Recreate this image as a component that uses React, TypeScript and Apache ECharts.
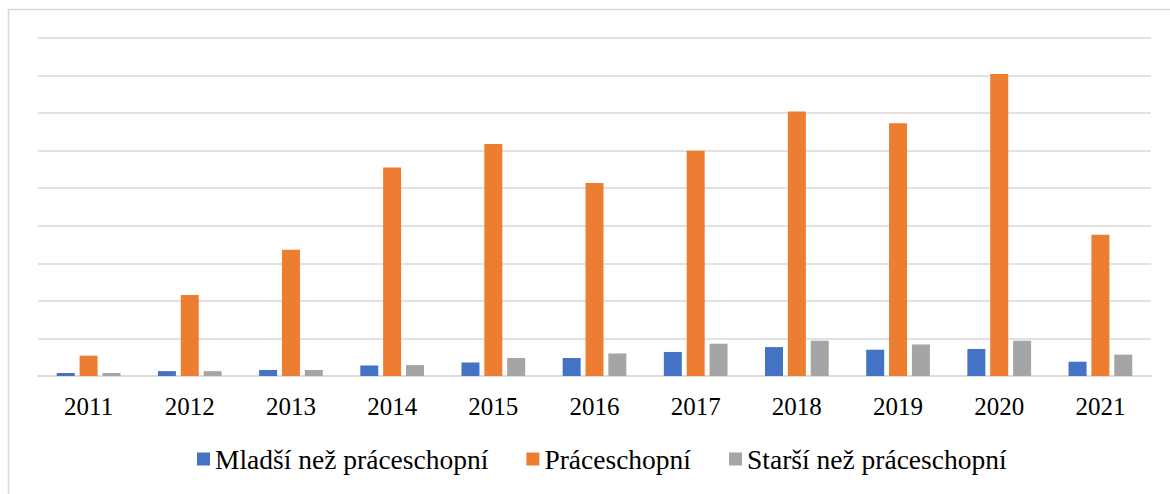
import React, { useEffect, useRef } from "react";
import * as echarts from "echarts";

const years = ["2011", "2012", "2013", "2014", "2015", "2016", "2017", "2018", "2019", "2020", "2021"];
const seriesNames = ["Mladší než práceschopní", "Práceschopní", "Starší než práceschopní"];
const younger = [0.08, 0.13, 0.16, 0.28, 0.36, 0.48, 0.64, 0.77, 0.70, 0.72, 0.38];
const working = [0.54, 2.16, 3.36, 5.55, 6.18, 5.14, 6.0, 7.04, 6.73, 8.04, 3.76];
const older = [0.08, 0.13, 0.16, 0.29, 0.48, 0.6, 0.86, 0.94, 0.84, 0.94, 0.57];
const colors = ["#4472C4", "#ED7D31", "#A5A5A5"];

const FONT = "Liberation Serif";

export default function App() {
  const ref = useRef<HTMLDivElement>(null);
  useEffect(() => {
    if (!ref.current) return;
    const chart = echarts.init(ref.current, null, { renderer: "svg" });
    const values = [younger, working, older];
    chart.setOption({
      animation: false,
      backgroundColor: "#ffffff",
      color: colors,
      textStyle: { fontFamily: FONT },
      graphic: [
        {
          type: "rect",
          shape: { x: 8.5, y: 9.5, width: 1300, height: 700 },
          style: { fill: "none", stroke: "#d9d9d9", lineWidth: 1.5 },
          silent: true,
          z: -1,
        },
      ],
      grid: { left: 38, right: 19, top: 38, bottom: 118, containLabel: false },
      legend: {
        data: seriesNames,
        bottom: 16,
        left: 192,
        itemWidth: 13,
        itemHeight: 13,
        itemGap: 38,
        icon: "rect",
        textStyle: { fontFamily: FONT, fontSize: 27.5, color: "#000" },
      },
      xAxis: {
        type: "category",
        data: years,
        axisLine: { lineStyle: { color: "#d9d9d9", width: 1.5 } },
        axisTick: { show: false },
        axisLabel: { color: "#000", fontFamily: FONT, fontSize: 25, margin: 18 },
      },
      yAxis: {
        type: "value",
        min: 0,
        max: 9,
        interval: 1,
        axisLabel: { show: false },
        axisLine: { show: false },
        axisTick: { show: false },
        splitLine: { lineStyle: { color: "#d9d9d9", width: 1.5 } },
      },
      series: seriesNames.map((name, i) => ({
        name,
        type: "bar",
        data: values[i],
        barWidth: 18,
        barGap: "27%",
        itemStyle: { color: colors[i] },
      })),
    });
    return () => chart.dispose();
  }, []);
  return (
    <div
      ref={ref}
      style={{ position: "absolute", left: 0, top: 0, width: 1170, height: 494 }}
    />
  );
}
